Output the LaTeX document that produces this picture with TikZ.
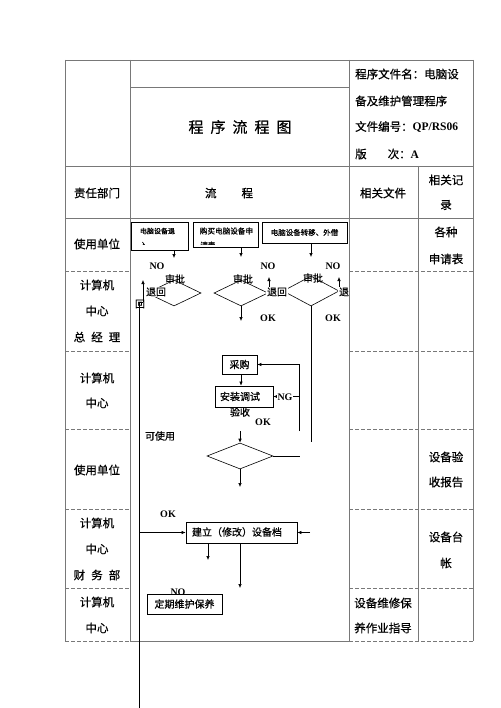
\documentclass[tikz,border=0pt]{standalone}
\usepackage{fontspec}
\setmainfont{Noto Sans CJK SC}[FakeBold=0.6]
\newfontfamily\tnr{Liberation Serif}
\usetikzlibrary{shapes.geometric,arrows.meta}
\definecolor{tgray}{RGB}{120,120,120}
\begin{document}
\begin{tikzpicture}[x=1pt,y=-1pt,
  grid/.style={draw=tgray, line width=0.9pt},
  dgrid/.style={draw=tgray, line width=0.9pt, dash pattern=on 3.5pt off 2.5pt},
  fl/.style={draw=black, line width=0.6pt},
  arr/.style={draw=black, line width=0.6pt, -{Latex[length=4pt,width=3.5pt]}},
  fbox/.style={draw=black, line width=0.7pt, fill=white, inner sep=0pt, minimum width=#1},
  dia/.style={diamond, draw=black, line width=0.6pt, inner sep=0pt},
  tt/.style={font=\fontsize{11.5}{13}\selectfont, inner sep=0pt},
  ft/.style={font=\fontsize{10}{12}\selectfont, inner sep=0pt},
  lt/.style={font=\fontsize{10}{12}\selectfont\tnr\bfseries, inner sep=0pt},
  st/.style={font=\fontsize{7}{12}\selectfont, inner sep=0pt},
  wb/.style={fill=white, inner sep=0.6pt}
]
\useasboundingbox (0,0) rectangle (500,708);
\fill[white] (0,0) rectangle (500,708);

% ---------------- table ----------------
\draw[grid] (65,60) -- (473,60);
\draw[grid] (130,87) -- (349,87);
\draw[grid] (65,166) -- (473,166);
\draw[grid] (65,218) -- (473,218);
\draw[grid] (65,60) -- (65,641);
\draw[grid] (130,60) -- (130,641);
\draw[grid] (349,60) -- (349,641);
\draw[grid] (418,166) -- (418,641);
\draw[grid] (473,60) -- (473,641);
\foreach \yy in {271,351,429,509,588,641}{
  \draw[dgrid] (65,\yy) -- (130,\yy);
  \draw[dgrid] (349,\yy) -- (473,\yy);
}
\draw[grid] (130,641) -- (349,641);

% header texts
\node[font=\fontsize{15}{17}\selectfont, inner sep=0pt] (title) at (240,127) {程\hspace{7pt}序\hspace{7pt}流\hspace{7pt}程\hspace{7pt}图};
\node[tt, anchor=west] (h1) at (355,74) {程序文件名：电脑设};
\node[tt, anchor=west] (h2) at (355,101) {备及维护管理程序};
\node[tt, anchor=west] (h3) at (355,127) {文件编号：{\tnr\bfseries QP/RS06}};
\node[tt, anchor=west] (h4) at (355,154) {版\hspace{21pt}次：{\tnr\bfseries A}};
\node[tt] (c1) at (97,193) {责任部门};
\node[tt] (c2) at (229,193) {流\hspace{25pt}程};
\node[tt] (c3) at (383,193) {相关文件};
\node[tt] (c4a) at (446,180) {相关记};
\node[tt] (c4b) at (446,205) {录};

% left column
\node[tt] (l1) at (97,244) {使用单位};
\node[tt] (l2a) at (97,285) {计算机};
\node[tt] (l2b) at (97,311) {中心};
\node[tt] (l2c) at (97,337) {总\hspace{6pt}经\hspace{6pt}理};
\node[tt] (l3a) at (97,378) {计算机};
\node[tt] (l3b) at (97,403) {中心};
\node[tt] (l4) at (97,470) {使用单位};
\node[tt] (l5a) at (97,523) {计算机};
\node[tt] (l5b) at (97,549) {中心};
\node[tt] (l5c) at (97,575) {财\hspace{6pt}务\hspace{6pt}部};
\node[tt] (l6a) at (97,602) {计算机};
\node[tt] (l6b) at (97,628) {中心};

% right columns
\node[tt] (r1a) at (446,232) {各种};
\node[tt] (r1b) at (446,259) {申请表};
\node[tt] (r2a) at (446,457) {设备验};
\node[tt] (r2b) at (446,482) {收报告};
\node[tt] (r3a) at (446,537) {设备台};
\node[tt] (r3b) at (446,563) {帐};
\node[tt] (f1a) at (383,603) {设备维修保};
\node[tt] (f1b) at (383,628) {养作业指导};

% ---------------- flowchart ----------------
% boxes
\node[fbox=57pt, minimum height=28pt] (box1) at (159.5,236) {};
\node[fbox=65pt, minimum height=25pt] (box2) at (225.5,234.5) {};
\node[fbox=85pt, minimum height=21pt, st, font=\fontsize{7.5}{9}\selectfont] (box3) at (304.5,232.5) {电脑设备转移、外借};
\begin{scope}
  \clip (box1.north west) rectangle ([yshift=6pt]box1.south east);
  \node[st] (b1t1) at (157.5,231) {电脑设备退};
  \node[st, anchor=west] (b1t2) at (140,245) {入};
\end{scope}
\begin{scope}
  \clip (box2.north west) rectangle ([yshift=3pt]box2.south east);
  \node[st, font=\fontsize{7.6}{9}\selectfont] (b2t1) at (226.5,231) {购买电脑设备申};
  \node[st, font=\fontsize{7.6}{9}\selectfont, anchor=west] (b2t2) at (200,245) {请表};
\end{scope}

% diamonds
\node[dia, minimum width=54pt, minimum height=26pt] (d1) at (174,293) {};
\node[dia, minimum width=54pt, minimum height=26pt] (d2) at (241,293) {};
\node[dia, minimum width=56pt, minimum height=30pt] (d3) at (311,291) {};

\coordinate (a1e) at (174,258);
\coordinate (a2e) at (241,257);
\coordinate (a3e) at (311,257);
\draw[arr] (box1.south -| a1e) -- (a1e);
\draw[arr] (box2.south -| a2e) -- (a2e);
\draw[arr] (box3.south -| a3e) -- (a3e);

\node[lt] (no1) at (157,266) {NO};
\node[lt] (no2) at (268,266) {NO};
\node[lt] (no3) at (333,266) {NO};
\node[ft] (sp1) at (175,279) {审批};
\node[ft] (sp2) at (243,279) {审批};
\node[ft] (sp3) at (313,278) {审批};

% return arrows
\coordinate (ltop) at (139,302);
\coordinate (lbot) at (139,708);
\coordinate (r1f) at (143,302);
\coordinate (r1t) at (143,280);
\draw[fl] (lbot) -- (ltop) -- (r1f);
\draw[arr] (r1f) -- (r1t);
\node[ft, wb] (th1) at (156,292) {退回};
\node[ft] (hui) at (140,304) {回};
\coordinate (r2f) at (269,288);
\coordinate (r2t) at (269,277);
\draw[arr] (r2f) -- (r2t);
\node[ft, wb] (th2) at (277,292) {退回};
\coordinate (r3f) at (339,288);
\coordinate (r3t) at (339,277);
\draw[arr] (r3f) -- (r3t);
\begin{scope}
  \clip (330,280) rectangle (348.5,300);
  \node[ft, wb] (th3) at (349,292) {退回};
\end{scope}

\coordinate (a5e) at (241,321);
\draw[arr] (d2.south) -- (a5e);
\node[lt] (ok1) at (268,318) {OK};
\node[lt] (ok2) at (333,318) {OK};
\coordinate (d3e) at (311,442);
\draw[fl] (d3.south) -- (d3e);

% purchase / install
\node[fbox=35pt, minimum height=19pt, ft] (cg) at (239.5,364.5) {采购};
\node[fbox=58pt, minimum height=21pt] (az) at (244,396.5) {};
\node[ft] (azt) at (240,396.5) {安装调试};
\draw[arr] (cg.south -| 241,0) -- (az.north -| 241,0);
\coordinate (lp1) at (299,431);
\draw[arr] (lp1) |- (cg.east);
\draw[arr] (az.east -| lp1) -- (az.east);
\node[lt, wb] (ng) at (285,397) {NG};
\node[ft] (ys) at (240,412) {验收};
\node[lt] (ok3) at (263,422) {OK};
\node[ft] (ksy) at (160,436) {可使用};

\node[dia, minimum width=66pt, minimum height=26pt] (d4) at (240,456) {};
\coordinate (a6s) at (240,431);
\draw[arr] (a6s) -- (d4.north);
\coordinate (a7e) at (240,487);
\draw[arr] (d4.south) -- (a7e);
\coordinate (d4r) at (300,456);
\draw[fl] (d4.east) -- (d4r);

% archive
\node[fbox=111pt, minimum height=21pt] (jl) at (241.5,532.5) {};
\begin{scope}
  \clip (jl.north west) rectangle (jl.south east);
  \node[ft] (jlt1) at (237,532) {建立（修改）设备档};
  \node[ft, anchor=west] (jlt2) at (192,548) {案};
\end{scope}
\draw[arr] (jl.west -| ltop) -- (jl.west);
\node[lt] (ok4) at (168,514) {OK};
\coordinate (jr) at (310,532.5);
\draw[arr] (jr) -- (jl.east);
\coordinate (j1e) at (208,560);
\coordinate (j2e) at (240,588);
\draw[arr] (jl.south -| j1e) -- (j1e);
\draw[arr] (jl.south -| j2e) -- (j2e);

\node[lt] (no4) at (178,592) {NO};
\node[fbox=75pt, minimum height=20pt, ft] (dq) at (184.5,604) {定期维护保养};
\end{tikzpicture}
\end{document}
